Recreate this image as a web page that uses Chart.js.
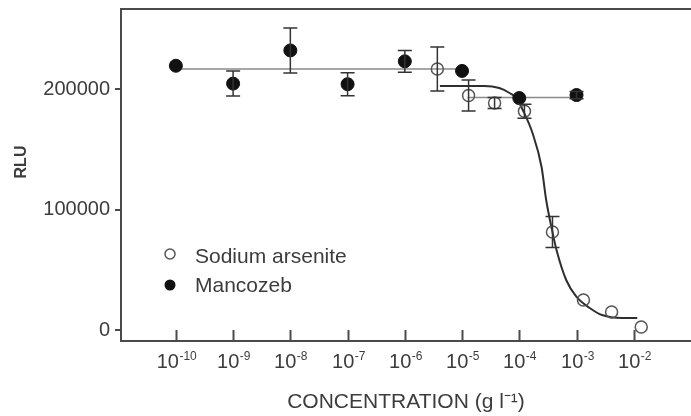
<!DOCTYPE html>
<html>
<head>
<meta charset="utf-8">
<script src="https://cdn.jsdelivr.net/npm/chart.js@4.4.0/dist/chart.umd.min.js"></script>
<style>
body { margin: 0; background: #fff; }
#wrap { width: 691px; height: 416px; }
</style>
</head>
<body>
<div id="wrap"><canvas id="rlu_chart"></canvas></div>
<script>
// measured points, concentration in g/l
const arsenite_conc = [3.7e-6, 1.3e-5, 3.7e-5, 1.23e-4, 3.8e-4, 1.32e-3, 4.1e-3, 1.35e-2];
const arsenite_rlu = [216600, 194600, 188400, 181500, 81300, 24900, 15000, 2500];
const arsenite_err = [18300, 12900, 4600, 5800, 12900, 0, 0, 0];

const mancozeb_conc = [1e-10, 1e-9, 1e-8, 1e-7, 1e-6, 1e-5, 1e-4, 1e-3];
const mancozeb_rlu = [219300, 204500, 232000, 204000, 223000, 215000, 192500, 195000];
const mancozeb_err = [0, 10400, 18700, 9500, 9000, 0, 0, 3000];

// fitted curves
const arsenite_fit_conc = [4.1e-6, 2.45e-5, 4.47e-5, 6.76e-5, 8.9e-5, 1.15e-4, 1.7e-4, 2.45e-4,
    2.95e-4, 3.8e-4, 4.47e-4, 6.6e-4, 1e-3, 1.7e-3, 2.8e-3, 6.3e-3, 1.15e-2];
const arsenite_fit_rlu = [202500, 202500, 200800, 196700, 192500, 182600, 163500, 135300,
    107900, 81300, 66400, 41500, 27400, 18300, 12400, 10000, 10000];
const mancozeb_fit_conc = [1e-10, 1.05e-5, null, 1.25e-5, 1e-3];
const mancozeb_fit_rlu = [216600, 216600, null, 193000, 193000];

const x_tick_values = [1e-10, 1e-9, 1e-8, 1e-7, 1e-6, 1e-5, 1e-4, 1e-3, 1e-2];
const x_tick_exponents = ['-10', '-9', '-8', '-7', '-6', '-5', '-4', '-3', '-2'];
const y_tick_values = [0, 100000, 200000];

const FONT = "'Liberation Sans', Arial, sans-serif";
const TEXT = '#3c3c3c';
const AXIS = '#4a4a4a';

function to_points(xs, ys) {
    return xs.map((x, i) => (x === null ? { x: NaN, y: null } : { x: x, y: ys[i] }));
}

const error_bars = {
    id: 'error_bars',
    afterDatasetsDraw(chart) {
        const ctx = chart.ctx;
        const sx = chart.scales.x, sy = chart.scales.y;
        ctx.save();
        ctx.strokeStyle = '#333';
        ctx.lineWidth = 1.5;
        [[arsenite_conc, arsenite_rlu, arsenite_err], [mancozeb_conc, mancozeb_rlu, mancozeb_err]]
            .forEach(([cs, vs, es]) => {
                cs.forEach((c, i) => {
                    if (!es[i]) return;
                    const px = sx.getPixelForValue(c);
                    const top = sy.getPixelForValue(vs[i] + es[i]);
                    const bot = sy.getPixelForValue(vs[i] - es[i]);
                    ctx.beginPath();
                    ctx.moveTo(px, top); ctx.lineTo(px, bot);
                    ctx.moveTo(px - 7, top); ctx.lineTo(px + 7, top);
                    ctx.moveTo(px - 7, bot); ctx.lineTo(px + 7, bot);
                    ctx.stroke();
                });
            });
        ctx.restore();
    }
};

// x tick marks point up into the plot, labels are 10 with a raised exponent
const log_ticks = {
    id: 'log_ticks',
    afterDraw(chart) {
        const ctx = chart.ctx;
        const sx = chart.scales.x;
        ctx.save();
        ctx.strokeStyle = AXIS;
        ctx.lineWidth = 2;
        ctx.fillStyle = TEXT;
        ctx.textBaseline = 'alphabetic';
        x_tick_values.forEach((v, i) => {
            const px = Math.round(sx.getPixelForValue(v)) + 0.5;
            ctx.beginPath();
            ctx.moveTo(px, sx.top);
            ctx.lineTo(px, sx.top - 11);
            ctx.stroke();

            ctx.font = '20px ' + FONT;
            const wb = ctx.measureText('10').width;
            ctx.font = '12px ' + FONT;
            const we = ctx.measureText(x_tick_exponents[i]).width;
            const left = px - (wb + we) / 2;
            ctx.font = '20px ' + FONT;
            ctx.fillText('10', left, sx.top + 27);
            ctx.font = '12px ' + FONT;
            ctx.fillText(x_tick_exponents[i], left + wb + 0.5, sx.top + 19);
        });
        ctx.restore();
    }
};

// legend sits inside the plot, lower left; y title drawn a bit above centre
const inset_text = {
    id: 'inset_text',
    afterDraw(chart) {
        const ctx = chart.ctx;
        ctx.save();
        ctx.font = '21px ' + FONT;
        ctx.fillStyle = TEXT;
        ctx.textBaseline = 'middle';
        ctx.fillText('Sodium arsenite', 195, 257);
        ctx.fillText('Mancozeb', 195, 286);
        ctx.beginPath();
        ctx.arc(170, 254, 5, 0, Math.PI * 2);
        ctx.strokeStyle = '#555';
        ctx.lineWidth = 1.5;
        ctx.stroke();
        ctx.beginPath();
        ctx.arc(170, 285, 5.5, 0, Math.PI * 2);
        ctx.fillStyle = '#111';
        ctx.fill();

        ctx.translate(22, 162);
        ctx.rotate(-Math.PI / 2);
        ctx.font = 'bold 16px ' + FONT;
        ctx.fillStyle = TEXT;
        ctx.textAlign = 'center';
        ctx.fillText('RLU', 0, 0);
        ctx.restore();
    }
};

new Chart(
    'rlu_chart',
    {
        type: 'line',
        data: {
            datasets: [
                {
                    label: 'Sodium arsenite',
                    data: to_points(arsenite_conc, arsenite_rlu),
                    showLine: false,
                    pointRadius: 6,
                    pointBorderWidth: 1.5,
                    pointBorderColor: '#555',
                    pointBackgroundColor: 'rgba(0,0,0,0)',
                    order: 1
                },
                {
                    label: 'Mancozeb',
                    data: to_points(mancozeb_conc, mancozeb_rlu),
                    showLine: false,
                    pointRadius: 6.5,
                    pointBorderWidth: 1,
                    pointBorderColor: '#111',
                    pointBackgroundColor: '#111',
                    order: 0
                },
                {
                    data: to_points(arsenite_fit_conc, arsenite_fit_rlu),
                    borderColor: '#2e2e2e',
                    borderWidth: 2,
                    pointRadius: 0,
                    cubicInterpolationMode: 'monotone',
                    order: 3
                },
                {
                    data: to_points(mancozeb_fit_conc, mancozeb_fit_rlu),
                    borderColor: '#8a8a8a',
                    borderWidth: 1.5,
                    pointRadius: 0,
                    spanGaps: false,
                    order: 4
                }
            ]
        },
        options: {
            animation: false,
            responsive: true,
            maintainAspectRatio: false,
            layout: { padding: 0, autoPadding: false },
            scales: {
                x: {
                    type: 'logarithmic',
                    position: 'bottom',
                    min: 1.1e-11,
                    max: 0.1,
                    afterBuildTicks: (scale) => {
                        scale.ticks = x_tick_values.map(v => ({ value: v }));
                    },
                    afterFit: (scale) => {
                        scale.height = 75;
                        scale.paddingLeft = 0;
                        scale.paddingRight = 0;
                    },
                    grid: { display: false, drawTicks: false },
                    border: { display: true, color: AXIS, width: 2 },
                    ticks: { display: false },
                    title: {
                        display: true,
                        text: 'CONCENTRATION (g l⁻¹)',
                        color: TEXT,
                        font: { family: FONT, size: 21 },
                        padding: { top: 0, bottom: 1 }
                    }
                },
                top: {
                    type: 'linear',
                    position: 'top',
                    afterFit: (scale) => { scale.height = 9; },
                    grid: { display: false, drawTicks: false },
                    border: { display: true, color: AXIS, width: 2 },
                    ticks: { display: false }
                },
                y: {
                    type: 'linear',
                    min: -9130,
                    max: 266400,
                    afterBuildTicks: (scale) => {
                        scale.ticks = y_tick_values.map(v => ({ value: v }));
                    },
                    afterFit: (scale) => {
                        scale.width = 121;
                        scale.paddingTop = 0;
                        scale.paddingBottom = 0;
                    },
                    grid: { display: true, drawOnChartArea: false, drawTicks: true, tickLength: 6, color: AXIS, lineWidth: 2 },
                    border: { display: true, color: AXIS, width: 2 },
                    ticks: {
                        padding: 5,
                        color: TEXT,
                        font: { family: FONT, size: 20 },
                        callback: (value) => String(value)
                    }
                }
            },
            plugins: {
                legend: { display: false },
                tooltip: { enabled: false }
            }
        },
        plugins: [error_bars, log_ticks, inset_text]
    }
);
</script>
</body>
</html>
